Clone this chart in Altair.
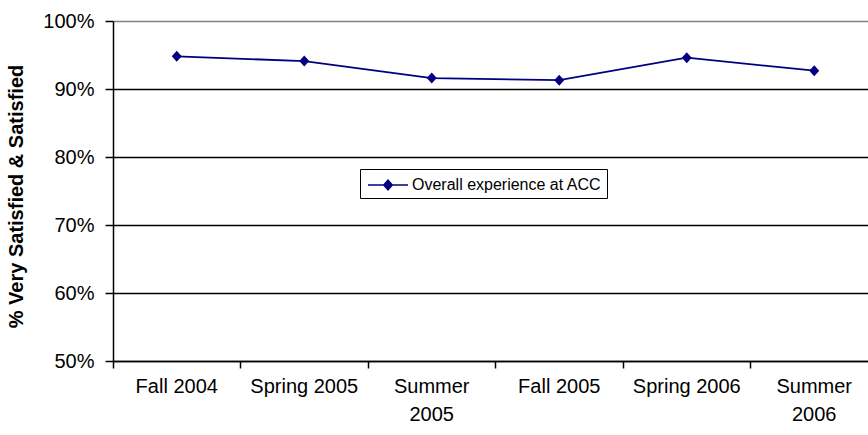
import altair as alt
import pandas as pd

# Survey terms and share of students "Very Satisfied" or "Satisfied"
terms = ["Fall 2004", "Spring 2005", "Summer\n2005", "Fall 2005", "Spring 2006", "Summer\n2006"]
satisfied = [0.948, 0.941, 0.916, 0.913, 0.946, 0.927]
series_name = "Overall experience at ACC"
y_ticks = [0.5, 0.6, 0.7, 0.8, 0.9, 1.0]

df = pd.DataFrame({
    "idx": list(range(len(terms))),
    "term": terms,
    "value": satisfied,
    "series": [series_name] * len(terms),
})

NAVY = "#000080"
FONT = "Liberation Sans"
W, H = 755, 340

x_scale = alt.Scale(domain=[-0.5, 5.4216], nice=False, zero=False)
y_scale = alt.Scale(domain=[0.5, 1.0], nice=False, zero=False)

x_axis = alt.Axis(
    values=[i - 0.5 for i in range(len(terms))],
    labels=False, title=None, grid=False,
    domainColor="black", domainWidth=1.5,
    tickColor="black", tickWidth=1.5, tickSize=7,
)
y_axis = alt.Axis(
    values=y_ticks, format=".0%",
    title="% Very Satisfied & Satisfied",
    titleFont=FONT, titleFontSize=20, titleFontWeight="bold", titleColor="black",
    titleAngle=-90, titleX=-97, titleY=H / 2 + 5, titleAlign="center", titleBaseline="middle",
    labelFont=FONT, labelFontSize=20, labelColor="black", labelPadding=11,
    domainColor="black", domainWidth=1.5,
    tickColor="black", tickWidth=1.5, tickSize=8,
    grid=True, gridWidth=1.5,
    gridColor=alt.condition("datum.value >= 0.999", alt.value("#808080"), alt.value("black")),
)

base = alt.Chart(df)

# legend swatch: a short line with a diamond in its middle
swatch = "M-2,0H2M-0.42,0L0,-0.47L0.42,0L0,0.47Z"

line = base.mark_line(strokeWidth=1.8, clip=False).encode(
    x=alt.X("idx:Q", scale=x_scale, axis=x_axis),
    y=alt.Y("value:Q", scale=y_scale, axis=y_axis),
    color=alt.Color(
        "series:N",
        scale=alt.Scale(range=[NAVY]),
        legend=alt.Legend(
            title=None, orient="none", legendX=247, legendY=148,
            strokeColor="black", fillColor="white", padding=5,
            symbolType=swatch, symbolSize=400, symbolOffset=12,
            symbolStrokeWidth=1.6, symbolFillColor=NAVY,
            labelFont=FONT, labelFontSize=16, labelColor="black",
            labelOffset=13, labelLimit=0,
        ),
    ),
)

points = base.mark_point(
    shape="M0,-1.1L1,0L0,1.1L-1,0Z", filled=True, size=100, opacity=1, color=NAVY
).encode(
    x=alt.X("idx:Q", scale=x_scale),
    y=alt.Y("value:Q", scale=y_scale),
)

labels = base.mark_text(
    font=FONT, fontSize=20, color="black", baseline="alphabetic",
    align="center", lineBreak="\n", lineHeight=28,
).encode(
    x=alt.X("idx:Q", scale=x_scale),
    y=alt.value(H + 32),
    text="term:N",
)

chart = (
    alt.layer(line, points, labels)
    .properties(
        width=W, height=H,
        autosize=alt.AutoSizeParams(type="none"),
        padding={"left": 113, "top": 21, "right": 0, "bottom": 74},
        background="white",
    )
    .configure_view(stroke=None)
)

chart.save("out.html", embed_options={"renderer": "svg", "actions": False})
